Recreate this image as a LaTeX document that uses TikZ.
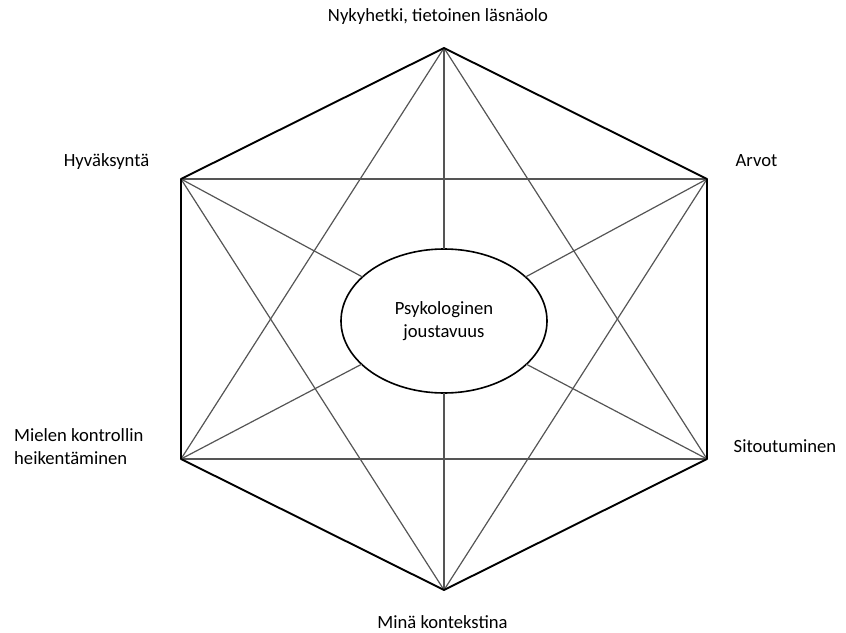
\documentclass[tikz,border=0pt]{standalone}
\usepackage{fontspec}
\setmainfont{Carlito}
\usetikzlibrary{shapes.geometric}
\definecolor{inner}{RGB}{85,85,85}
\begin{document}
\begin{tikzpicture}[x=1bp,y=-1bp,
  edge/.style={line width=1.9bp,black,line cap=round,line join=round},
  inl/.style={line width=1.2bp,inner},
  lbl/.style={inner sep=0pt,font=\fontsize{18.7}{23}\selectfont},
]
\useasboundingbox (0,0) rectangle (846,633);
\coordinate (T) at (444,48);
\coordinate (UR) at (707,179);
\coordinate (LR) at (707,459);
\coordinate (B) at (444,590);
\coordinate (LL) at (181,459);
\coordinate (UL) at (181,179);
\node[ellipse,draw,line width=1.6bp,minimum width=206bp,minimum height=144bp,inner sep=0pt,outer sep=0pt,align=center,font=\fontsize{18.7}{23}\selectfont] (E) at (444,321) {Psykologinen\\joustavuus};
% inner lines
\draw[inl] (UL) -- (UR);
\draw[inl] (LL) -- (LR);
\draw[inl] (T) -- (LL);
\draw[inl] (T) -- (LR);
\draw[inl] (B) -- (UL);
\draw[inl] (B) -- (UR);
\draw[inl] (T) -- (E);
\draw[inl] (B) -- (E);
\draw[inl] (UL) -- (E);
\draw[inl] (UR) -- (E);
\draw[inl] (LL) -- (E);
\draw[inl] (LR) -- (E);
% hexagon
\draw[edge] (T) -- (UR) -- (LR) -- (B) -- (LL) -- (UL) -- cycle;
% labels
\node[lbl,anchor=base] (lt) at (438,21.5) {Nykyhetki, tietoinen läsnäolo};
\node[lbl,anchor=base] (lul) at (106.5,167) {Hyväksyntä};
\node[lbl,anchor=base] (lur) at (756.5,167) {Arvot};
\node[lbl,anchor=base] (llr) at (785,452) {Sitoutuminen};
\node[lbl,anchor=base] (lb) at (442.5,628) {Minä kontekstina};
\node[lbl,anchor=west,align=left] (lll) at (14,447) {Mielen kontrollin\\heikentäminen};
\end{tikzpicture}
\end{document}
